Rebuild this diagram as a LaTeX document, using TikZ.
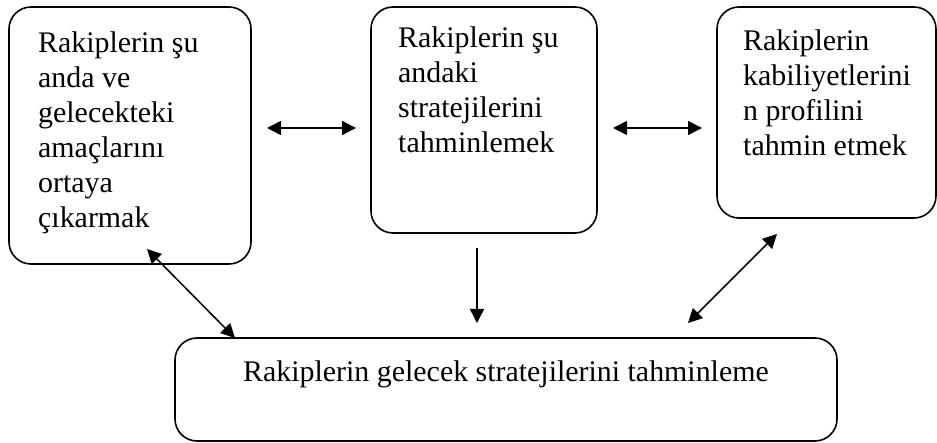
\documentclass[tikz,border=0pt]{standalone}
\usepackage{fontspec}
\setmainfont{Liberation Serif}
\usetikzlibrary{arrows.meta}
\begin{document}
\begin{tikzpicture}[x=1pt,y=-1pt,
  box/.style={draw=black, line width=1.6pt, rounded corners=22pt, inner sep=0pt},
  txt/.style={inner sep=0pt, anchor=base west, align=left,
    font=\fontsize{29.9}{35}\selectfont},
  conn/.style={line width=1.5pt, -{Triangle[length=14pt,width=14pt]}},
  dconn/.style={line width=1.5pt, {Triangle[length=14pt,width=14pt]}-{Triangle[length=14pt,width=14pt]}}]
\useasboundingbox (0,0) rectangle (937,443);
% boxes
\node[box, minimum width=242pt, minimum height=257pt] (b1) at (130,135.5) {};
\node[box, minimum width=226pt, minimum height=226pt] (b2) at (484,120) {};
\node[box, minimum width=219pt, minimum height=211pt] (b3) at (826.5,112.5) {};
\node[box, minimum width=662pt, minimum height=103pt] (b4) at (506,389.5) {};
% texts (anchor at baseline of last line)
\node[txt] (t1) at (38,228) {Rakiplerin şu\\anda ve\\gelecekteki\\amaçlarını\\ortaya\\çıkarmak};
\node[txt] (t2) at (398,152.5) {Rakiplerin şu\\andaki\\stratejilerini\\tahminlemek};
\node[txt] (t3) at (743,155.5) {Rakiplerin\\kabiliyetlerini\\n profilini\\tahmin etmek};
\node[txt] (t4) at (243,382) {Rakiplerin gelecek stratejilerini tahminleme};
% connector ends
\coordinate (a1l) at (267,128);
\coordinate (a1r) at (356,128);
\coordinate (a2l) at (613,128);
\coordinate (a2r) at (702,128);
\coordinate (a3t) at (477,248);
\coordinate (a3b) at (477,323);
\coordinate (a4t) at (147,249);
\coordinate (a4b) at (235,338);
\coordinate (a5b) at (688,323);
\coordinate (a5t) at (777,234);
% connectors
\draw[dconn] (a1l) -- (a1r);
\draw[dconn] (a2l) -- (a2r);
\draw[conn] (a3t) -- (a3b);
\draw[dconn] (a4t) -- (a4b);
\draw[dconn] (a5b) -- (a5t);
\end{tikzpicture}
\end{document}
